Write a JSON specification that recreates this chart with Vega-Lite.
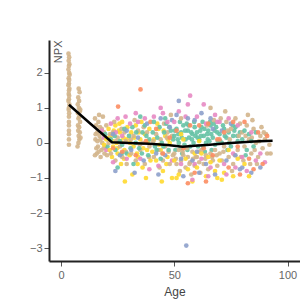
{
"$schema":"https://vega.github.io/schema/vega-lite/v6.json",
"autosize":"none",
"width":251,"height":221,
"padding":{"left":49,"top":40,"right":0,"bottom":39},
"background":"white",
"config":{"view":{"stroke":null},"font":"Liberation Sans"},
"datasets":{
"pts":[
{"a":3.3,"n":2.55,"g":"T"},{"a":3.6,"n":2.45,"g":"T"},{"a":3.4,"n":2.35,"g":"T"},{"a":3.7,"n":2.25,"g":"T"},{"a":3.5,"n":2.2,"g":"T"},{"a":3.3,"n":2.1,"g":"T"},{"a":3.6,"n":2.0,"g":"T"},{"a":3.8,"n":1.95,"g":"T"},{"a":3.4,"n":1.85,"g":"T"},{"a":3.6,"n":1.8,"g":"T"},{"a":3.5,"n":1.7,"g":"T"},{"a":3.3,"n":1.65,"g":"T"},{"a":3.7,"n":1.55,"g":"T"},{"a":3.5,"n":1.5,"g":"T"},{"a":3.4,"n":1.4,"g":"T"},{"a":3.6,"n":1.35,"g":"T"},{"a":3.5,"n":1.25,"g":"T"},{"a":3.3,"n":1.2,"g":"T"},{"a":3.7,"n":1.1,"g":"T"},{"a":3.5,"n":1.0,"g":"T"},{"a":3.4,"n":0.95,"g":"T"},{"a":3.6,"n":0.85,"g":"T"},{"a":3.5,"n":0.75,"g":"T"},{"a":3.5,"n":0.6,"g":"T"},{"a":3.5,"n":0.5,"g":"T"},{"a":3.5,"n":0.35,"g":"T"},{"a":3.5,"n":0.25,"g":"T"},{"a":3.5,"n":0.1,"g":"T"},{"a":3.5,"n":-0.05,"g":"T"},
{"a":7.8,"n":1.55,"g":"T"},{"a":8.2,"n":1.45,"g":"T"},{"a":7.6,"n":1.3,"g":"T"},{"a":8.0,"n":1.2,"g":"T"},{"a":7.4,"n":1.1,"g":"T"},{"a":7.9,"n":1.0,"g":"T"},{"a":8.3,"n":0.9,"g":"T"},{"a":7.5,"n":0.85,"g":"T"},{"a":8.1,"n":0.75,"g":"T"},{"a":7.7,"n":0.7,"g":"T"},{"a":8.4,"n":0.6,"g":"T"},{"a":7.5,"n":0.5,"g":"T"},{"a":8.0,"n":0.45,"g":"T"},{"a":7.6,"n":0.35,"g":"T"},{"a":8.3,"n":0.3,"g":"T"},{"a":7.8,"n":0.2,"g":"T"},{"a":8.1,"n":0.1,"g":"T"},{"a":7.7,"n":0.0,"g":"T"},{"a":7.3,"n":-0.1,"g":"T"},{"a":8.5,"n":0.95,"g":"T"},{"a":8.6,"n":0.15,"g":"T"},
{"a":15,"n":0.7,"g":"T"},{"a":15.5,"n":0.5,"g":"T"},{"a":16,"n":0.3,"g":"T"},{"a":15.2,"n":0.1,"g":"T"},{"a":16.3,"n":-0.1,"g":"T"},{"a":15.8,"n":-0.3,"g":"T"},{"a":16.5,"n":0.6,"g":"T"},{"a":17,"n":0.2,"g":"T"},{"a":17.5,"n":-0.4,"g":"T"},{"a":18,"n":0.4,"g":"T"},{"a":18.2,"n":0.0,"g":"T"},{"a":17.8,"n":-0.2,"g":"T"},{"a":19,"n":0.3,"g":"T"},{"a":19.5,"n":-0.1,"g":"T"},{"a":20,"n":0.5,"g":"T"},{"a":16.8,"n":0.8,"g":"T"},{"a":18.5,"n":0.75,"g":"T"},{"a":15,"n":-0.35,"g":"T"},{"a":17.2,"n":0.45,"g":"T"},{"a":19.2,"n":-0.3,"g":"T"},
{"a":15.3,"n":0.25,"g":"T"},{"a":15.6,"n":-0.15,"g":"T"},{"a":16.1,"n":0.05,"g":"T"},{"a":16.6,"n":-0.25,"g":"T"},{"a":17.4,"n":0.1,"g":"T"},{"a":18.8,"n":-0.15,"g":"T"},{"a":19.7,"n":0.15,"g":"T"},{"a":20.3,"n":-0.35,"g":"T"},
{"a":18,"n":0.35,"g":"P"},{"a":19,"n":0.15,"g":"P"},{"a":20,"n":-0.2,"g":"P"},{"a":19.5,"n":0.25,"g":"G"},{"a":20.5,"n":-0.1,"g":"G"},{"a":19,"n":-0.05,"g":"Y"},{"a":20,"n":0.1,"g":"Y"},
{"a":21,"n":0.4,"g":"Y"},{"a":22,"n":0.2,"g":"Y"},{"a":23,"n":-0.1,"g":"Y"},{"a":24,"n":0.5,"g":"Y"},{"a":24.5,"n":0.0,"g":"Y"},{"a":25,"n":-0.3,"g":"Y"},{"a":26,"n":0.3,"g":"Y"},{"a":27,"n":0.6,"g":"Y"},{"a":28,"n":-0.2,"g":"Y"},{"a":28.2,"n":-1.1,"g":"Y"},{"a":29,"n":0.1,"g":"Y"},{"a":22.5,"n":-0.4,"g":"Y"},{"a":26.5,"n":-0.6,"g":"Y"},{"a":21.5,"n":-0.2,"g":"Y"},{"a":27.5,"n":0.15,"g":"Y"},{"a":25.5,"n":0.35,"g":"Y"},
{"a":21.3,"n":0.15,"g":"Y"},{"a":23.3,"n":0.35,"g":"Y"},{"a":24.8,"n":-0.15,"g":"Y"},{"a":26.3,"n":0.05,"g":"Y"},{"a":27.8,"n":-0.45,"g":"Y"},{"a":29.3,"n":0.45,"g":"Y"},{"a":22.8,"n":0.05,"g":"Y"},{"a":25.8,"n":0.55,"g":"Y"},
{"a":21,"n":0.0,"g":"T"},{"a":22,"n":-0.3,"g":"T"},{"a":23,"n":0.3,"g":"T"},{"a":24,"n":-0.5,"g":"T"},{"a":25,"n":0.15,"g":"T"},{"a":26,"n":-0.1,"g":"T"},{"a":27,"n":-0.4,"g":"T"},{"a":28,"n":0.3,"g":"T"},{"a":29,"n":-0.6,"g":"T"},{"a":23.5,"n":0.6,"g":"T"},{"a":28.5,"n":0.05,"g":"T"},
{"a":21.7,"n":0.25,"g":"T"},{"a":24.3,"n":0.05,"g":"T"},{"a":26.7,"n":0.4,"g":"T"},{"a":28.7,"n":-0.25,"g":"T"},
{"a":22,"n":0.1,"g":"G"},{"a":24,"n":-0.2,"g":"G"},{"a":26,"n":0.05,"g":"G"},{"a":28,"n":0.4,"g":"G"},{"a":29,"n":-0.3,"g":"G"},{"a":25,"n":-0.7,"g":"G"},{"a":27,"n":-0.05,"g":"G"},{"a":23.7,"n":0.2,"g":"G"},{"a":26.8,"n":-0.3,"g":"G"},
{"a":22,"n":0.55,"g":"P"},{"a":25,"n":0.7,"g":"P"},{"a":27,"n":0.2,"g":"P"},{"a":29,"n":-0.45,"g":"P"},{"a":23,"n":-0.55,"g":"P"},{"a":28.5,"n":0.75,"g":"P"},{"a":24.2,"n":0.3,"g":"P"},
{"a":23,"n":0.25,"g":"B"},{"a":26,"n":-0.35,"g":"B"},{"a":29,"n":0.35,"g":"B"},{"a":24,"n":-0.8,"g":"B"},
{"a":25.2,"n":1.04,"g":"O"},{"a":27,"n":-0.25,"g":"O"},{"a":23,"n":-0.15,"g":"O"},
{"a":31,"n":0.3,"g":"Y"},{"a":32,"n":-0.1,"g":"Y"},{"a":33,"n":0.5,"g":"Y"},{"a":34,"n":-0.4,"g":"Y"},{"a":35,"n":0.1,"g":"Y"},{"a":36,"n":-0.7,"g":"Y"},{"a":37,"n":0.25,"g":"Y"},{"a":38,"n":-0.2,"g":"Y"},{"a":39,"n":0.4,"g":"Y"},{"a":31.5,"n":-0.9,"g":"Y"},{"a":35.5,"n":0.6,"g":"Y"},{"a":33.5,"n":-0.3,"g":"Y"},{"a":37.5,"n":-1.0,"g":"Y"},{"a":30.5,"n":0.0,"g":"Y"},{"a":39.5,"n":-0.5,"g":"Y"},
{"a":30.3,"n":-0.35,"g":"Y"},{"a":32.3,"n":0.15,"g":"Y"},{"a":34.3,"n":0.3,"g":"Y"},{"a":36.3,"n":-0.15,"g":"Y"},{"a":38.3,"n":0.05,"g":"Y"},{"a":33.8,"n":-0.6,"g":"Y"},
{"a":31,"n":-0.3,"g":"T"},{"a":32,"n":0.2,"g":"T"},{"a":33,"n":-0.5,"g":"T"},{"a":34,"n":0.35,"g":"T"},{"a":35,"n":-0.2,"g":"T"},{"a":36,"n":0.0,"g":"T"},{"a":37,"n":-0.6,"g":"T"},{"a":38,"n":0.3,"g":"T"},{"a":39,"n":-0.1,"g":"T"},{"a":32.5,"n":0.65,"g":"T"},{"a":36.5,"n":0.45,"g":"T"},
{"a":30.8,"n":0.1,"g":"T"},{"a":34.8,"n":-0.05,"g":"T"},{"a":38.8,"n":-0.4,"g":"T"},
{"a":30,"n":0.2,"g":"G"},{"a":31.5,"n":0.45,"g":"G"},{"a":33,"n":0.0,"g":"G"},{"a":34.5,"n":-0.15,"g":"G"},{"a":36,"n":0.3,"g":"G"},{"a":37,"n":0.5,"g":"G"},{"a":38.5,"n":-0.35,"g":"G"},{"a":39,"n":0.1,"g":"G"},{"a":35,"n":0.75,"g":"G"},{"a":32,"n":-0.6,"g":"G"},
{"a":30.7,"n":-0.15,"g":"G"},{"a":33.2,"n":0.3,"g":"G"},{"a":35.7,"n":-0.3,"g":"G"},{"a":37.7,"n":0.2,"g":"G"},
{"a":30.5,"n":0.55,"g":"P"},{"a":33,"n":0.85,"g":"P"},{"a":35,"n":-0.45,"g":"P"},{"a":37,"n":0.7,"g":"P"},{"a":39,"n":-0.75,"g":"P"},{"a":34,"n":0.6,"g":"P"},
{"a":31,"n":-0.2,"g":"B"},{"a":34,"n":0.15,"g":"B"},{"a":36.5,"n":-0.5,"g":"B"},{"a":38,"n":0.55,"g":"B"},{"a":32.5,"n":-0.85,"g":"B"},
{"a":35.1,"n":1.53,"g":"O"},{"a":33,"n":-0.35,"g":"O"},{"a":37.5,"n":0.05,"g":"O"},{"a":39.5,"n":0.6,"g":"O"},
{"a":41,"n":0.1,"g":"Y"},{"a":42,"n":-0.5,"g":"Y"},{"a":43,"n":0.4,"g":"Y"},{"a":44,"n":-0.2,"g":"Y"},{"a":45,"n":-0.8,"g":"Y"},{"a":46,"n":0.2,"g":"Y"},{"a":47,"n":-0.4,"g":"Y"},{"a":48,"n":0.0,"g":"Y"},{"a":49,"n":-1.0,"g":"Y"},{"a":42.5,"n":0.55,"g":"Y"},{"a":46.5,"n":-0.6,"g":"Y"},{"a":44.5,"n":-1.1,"g":"Y"},
{"a":40.3,"n":-0.25,"g":"Y"},{"a":43.3,"n":-0.05,"g":"Y"},{"a":45.3,"n":0.35,"g":"Y"},{"a":47.3,"n":0.1,"g":"Y"},
{"a":41,"n":-0.4,"g":"T"},{"a":42,"n":0.25,"g":"T"},{"a":43,"n":-0.2,"g":"T"},{"a":44,"n":0.1,"g":"T"},{"a":45,"n":-0.5,"g":"T"},{"a":46,"n":-0.1,"g":"T"},{"a":47,"n":0.3,"g":"T"},{"a":48,"n":-0.6,"g":"T"},{"a":49,"n":0.2,"g":"T"},{"a":43.5,"n":-0.7,"g":"T"},{"a":47.5,"n":-0.25,"g":"T"},{"a":45.5,"n":0.55,"g":"T"},{"a":48.5,"n":0.8,"g":"T"},
{"a":40.7,"n":0.05,"g":"T"},{"a":44.7,"n":-0.3,"g":"T"},{"a":46.7,"n":0.15,"g":"T"},{"a":49.4,"n":-0.35,"g":"T"},
{"a":40.5,"n":0.3,"g":"G"},{"a":41.5,"n":-0.1,"g":"G"},{"a":42.5,"n":0.15,"g":"G"},{"a":43.5,"n":0.45,"g":"G"},{"a":44.5,"n":0.0,"g":"G"},{"a":45.5,"n":0.3,"g":"G"},{"a":46.5,"n":0.55,"g":"G"},{"a":47.5,"n":-0.2,"g":"G"},{"a":48.5,"n":0.35,"g":"G"},{"a":49.5,"n":0.1,"g":"G"},{"a":44,"n":-0.45,"g":"G"},{"a":46,"n":0.7,"g":"G"},{"a":41,"n":0.6,"g":"G"},
{"a":42.2,"n":-0.2,"g":"G"},{"a":45.2,"n":-0.1,"g":"G"},{"a":47.8,"n":0.45,"g":"G"},
{"a":41,"n":0.75,"g":"P"},{"a":43,"n":-0.65,"g":"P"},{"a":45,"n":0.85,"g":"P"},{"a":47,"n":0.6,"g":"P"},{"a":49,"n":-0.5,"g":"P"},{"a":44,"n":1.0,"g":"P"},
{"a":42,"n":-0.3,"g":"B"},{"a":44,"n":0.7,"g":"B"},{"a":46,"n":-0.35,"g":"B"},{"a":48,"n":0.45,"g":"B"},{"a":43,"n":-0.9,"g":"B"},{"a":49,"n":0.65,"g":"B"},
{"a":42,"n":0.4,"g":"O"},{"a":45,"n":-0.3,"g":"O"},{"a":48,"n":0.15,"g":"O"},
{"a":50,"n":0.2,"g":"G"},{"a":51,"n":0.4,"g":"G"},{"a":52,"n":0.0,"g":"G"},{"a":53,"n":0.3,"g":"G"},{"a":54,"n":0.5,"g":"G"},{"a":55,"n":0.1,"g":"G"},{"a":56,"n":0.35,"g":"G"},{"a":57,"n":-0.1,"g":"G"},{"a":58,"n":0.25,"g":"G"},{"a":59,"n":0.45,"g":"G"},{"a":50.5,"n":-0.2,"g":"G"},{"a":52.5,"n":0.6,"g":"G"},{"a":54.5,"n":-0.05,"g":"G"},{"a":56.5,"n":0.15,"g":"G"},{"a":58.5,"n":0.0,"g":"G"},{"a":51.5,"n":0.1,"g":"G"},{"a":55.5,"n":0.55,"g":"G"},{"a":57.5,"n":0.3,"g":"G"},{"a":53.5,"n":-0.3,"g":"G"},
{"a":50.3,"n":0.35,"g":"G"},{"a":51.8,"n":0.25,"g":"G"},{"a":53.3,"n":0.15,"g":"G"},{"a":54.8,"n":0.35,"g":"G"},{"a":56.3,"n":0.5,"g":"G"},{"a":57.8,"n":0.1,"g":"G"},{"a":59.3,"n":0.2,"g":"G"},{"a":52.8,"n":-0.15,"g":"G"},{"a":55.8,"n":-0.2,"g":"G"},{"a":58.8,"n":0.6,"g":"G"},
{"a":50,"n":-0.3,"g":"T"},{"a":51,"n":-0.6,"g":"T"},{"a":52,"n":-0.2,"g":"T"},{"a":53,"n":-0.5,"g":"T"},{"a":54,"n":-0.35,"g":"T"},{"a":55,"n":-0.7,"g":"T"},{"a":56,"n":-0.4,"g":"T"},{"a":57,"n":-0.55,"g":"T"},{"a":58,"n":-0.25,"g":"T"},{"a":59,"n":-0.65,"g":"T"},{"a":52.5,"n":-0.8,"g":"T"},{"a":55.5,"n":-0.15,"g":"T"},{"a":57.5,"n":-0.9,"g":"T"},{"a":53,"n":0.7,"g":"T"},{"a":59.5,"n":-0.4,"g":"T"},
{"a":50.7,"n":-0.45,"g":"T"},{"a":53.7,"n":-0.25,"g":"T"},{"a":56.7,"n":-0.6,"g":"T"},{"a":58.3,"n":-0.45,"g":"T"},
{"a":50,"n":-0.5,"g":"Y"},{"a":52,"n":-0.9,"g":"Y"},{"a":54,"n":0.1,"g":"Y"},{"a":56,"n":-0.75,"g":"Y"},{"a":58,"n":-1.1,"g":"Y"},{"a":51,"n":-1.0,"g":"Y"},{"a":55,"n":-0.45,"g":"Y"},{"a":59,"n":-0.3,"g":"Y"},{"a":53,"n":0.25,"g":"Y"},
{"a":50,"n":0.6,"g":"P"},{"a":52,"n":0.9,"g":"P"},{"a":55,"n":0.75,"g":"P"},{"a":57,"n":1.35,"g":"P"},{"a":59,"n":-0.6,"g":"P"},{"a":56,"n":1.1,"g":"P"},{"a":53,"n":-0.6,"g":"P"},{"a":58,"n":-1.05,"g":"P"},
{"a":51,"n":0.8,"g":"B"},{"a":53,"n":-0.45,"g":"B"},{"a":55.3,"n":-2.93,"g":"B"},{"a":56,"n":0.7,"g":"B"},{"a":58,"n":-0.5,"g":"B"},{"a":54,"n":-0.95,"g":"B"},{"a":52,"n":1.2,"g":"B"},{"a":59,"n":0.65,"g":"B"},
{"a":51,"n":0.35,"g":"O"},{"a":54,"n":-0.15,"g":"O"},{"a":57,"n":0.5,"g":"O"},{"a":59,"n":-0.85,"g":"O"},{"a":56,"n":-1.15,"g":"O"},
{"a":60,"n":0.3,"g":"G"},{"a":61,"n":0.1,"g":"G"},{"a":62,"n":0.45,"g":"G"},{"a":63,"n":0.2,"g":"G"},{"a":64,"n":0.0,"g":"G"},{"a":65,"n":0.35,"g":"G"},{"a":66,"n":0.5,"g":"G"},{"a":67,"n":0.15,"g":"G"},{"a":68,"n":-0.05,"g":"G"},{"a":69,"n":0.3,"g":"G"},{"a":60.5,"n":-0.1,"g":"G"},{"a":62.5,"n":0.6,"g":"G"},{"a":64.5,"n":0.25,"g":"G"},{"a":66.5,"n":-0.2,"g":"G"},{"a":68.5,"n":0.45,"g":"G"},{"a":61.5,"n":0.35,"g":"G"},{"a":63.5,"n":-0.25,"g":"G"},{"a":65.5,"n":0.05,"g":"G"},{"a":67.5,"n":0.55,"g":"G"},
{"a":60.3,"n":0.15,"g":"G"},{"a":61.8,"n":0.2,"g":"G"},{"a":63.3,"n":0.4,"g":"G"},{"a":64.8,"n":0.1,"g":"G"},{"a":66.3,"n":0.25,"g":"G"},{"a":67.8,"n":0.35,"g":"G"},{"a":69.3,"n":0.05,"g":"G"},{"a":62.8,"n":-0.1,"g":"G"},{"a":65.8,"n":0.6,"g":"G"},
{"a":60,"n":-0.4,"g":"T"},{"a":61,"n":-0.55,"g":"T"},{"a":62,"n":-0.2,"g":"T"},{"a":63,"n":-0.6,"g":"T"},{"a":64,"n":-0.35,"g":"T"},{"a":65,"n":-0.75,"g":"T"},{"a":66,"n":-0.3,"g":"T"},{"a":67,"n":-0.5,"g":"T"},{"a":68,"n":-0.2,"g":"T"},{"a":69,"n":-0.65,"g":"T"},{"a":61.5,"n":-0.85,"g":"T"},{"a":64.5,"n":0.5,"g":"T"},{"a":67.5,"n":0.65,"g":"T"},{"a":66,"n":1.0,"g":"T"},
{"a":60.7,"n":-0.25,"g":"T"},{"a":63.7,"n":-0.45,"g":"T"},{"a":66.7,"n":-0.4,"g":"T"},{"a":68.7,"n":-0.35,"g":"T"},
{"a":60,"n":-0.7,"g":"Y"},{"a":62,"n":-0.3,"g":"Y"},{"a":64,"n":-0.95,"g":"Y"},{"a":66,"n":-0.55,"g":"Y"},{"a":68,"n":-0.8,"g":"Y"},{"a":61,"n":0.05,"g":"Y"},{"a":65,"n":-0.4,"g":"Y"},{"a":69,"n":-1.0,"g":"Y"},
{"a":60,"n":0.75,"g":"P"},{"a":62,"n":-0.45,"g":"P"},{"a":64,"n":0.55,"g":"P"},{"a":66,"n":-0.7,"g":"P"},{"a":68,"n":0.8,"g":"P"},{"a":63,"n":1.1,"g":"P"},{"a":65,"n":-0.95,"g":"P"},{"a":69,"n":0.6,"g":"P"},
{"a":60,"n":-0.25,"g":"B"},{"a":62,"n":0.85,"g":"B"},{"a":64,"n":-0.6,"g":"B"},{"a":66,"n":0.7,"g":"B"},{"a":68,"n":-0.9,"g":"B"},{"a":61,"n":-0.85,"g":"B"},{"a":67,"n":0.4,"g":"B"},
{"a":61,"n":0.5,"g":"O"},{"a":63,"n":-0.15,"g":"O"},{"a":65,"n":0.55,"g":"O"},{"a":67,"n":-0.35,"g":"O"},{"a":69,"n":0.1,"g":"O"},{"a":64,"n":-1.1,"g":"O"},
{"a":70,"n":0.25,"g":"G"},{"a":71,"n":0.0,"g":"G"},{"a":72,"n":0.4,"g":"G"},{"a":73,"n":0.15,"g":"G"},{"a":74,"n":0.3,"g":"G"},{"a":75,"n":-0.1,"g":"G"},{"a":76,"n":0.2,"g":"G"},{"a":77,"n":0.45,"g":"G"},{"a":78,"n":0.05,"g":"G"},{"a":79,"n":0.3,"g":"G"},{"a":71.5,"n":0.5,"g":"G"},{"a":73.5,"n":-0.2,"g":"G"},{"a":76.5,"n":0.35,"g":"G"},
{"a":70.3,"n":0.05,"g":"G"},{"a":72.3,"n":0.2,"g":"G"},{"a":74.3,"n":0.0,"g":"G"},{"a":75.8,"n":0.5,"g":"G"},{"a":77.8,"n":0.2,"g":"G"},
{"a":70,"n":-0.3,"g":"T"},{"a":71,"n":-0.5,"g":"T"},{"a":72,"n":-0.1,"g":"T"},{"a":73,"n":0.6,"g":"T"},{"a":74,"n":-0.4,"g":"T"},{"a":75,"n":0.4,"g":"T"},{"a":76,"n":-0.6,"g":"T"},{"a":77,"n":0.7,"g":"T"},{"a":78,"n":-0.2,"g":"T"},{"a":79,"n":0.55,"g":"T"},{"a":72.5,"n":0.9,"g":"T"},{"a":75.5,"n":-0.8,"g":"T"},{"a":78.5,"n":0.2,"g":"T"},{"a":74.5,"n":0.1,"g":"T"},{"a":70.5,"n":0.7,"g":"T"},
{"a":71.7,"n":-0.25,"g":"T"},{"a":73.7,"n":0.35,"g":"T"},{"a":76.7,"n":-0.35,"g":"T"},{"a":79.4,"n":-0.4,"g":"T"},
{"a":70,"n":-0.5,"g":"Y"},{"a":72,"n":-0.85,"g":"Y"},{"a":74,"n":-0.2,"g":"Y"},{"a":76,"n":-0.95,"g":"Y"},{"a":78,"n":-0.45,"g":"Y"},{"a":71,"n":-1.05,"g":"Y"},
{"a":70,"n":0.6,"g":"P"},{"a":72,"n":-0.6,"g":"P"},{"a":74,"n":0.7,"g":"P"},{"a":76,"n":-0.3,"g":"P"},{"a":78,"n":0.5,"g":"P"},{"a":73,"n":-0.9,"g":"P"},{"a":77,"n":-0.7,"g":"P"},
{"a":71,"n":0.35,"g":"B"},{"a":73,"n":-0.5,"g":"B"},{"a":75,"n":0.55,"g":"B"},{"a":77,"n":-0.35,"g":"B"},{"a":79,"n":-0.75,"g":"B"},
{"a":70,"n":0.1,"g":"O"},{"a":72,"n":0.3,"g":"O"},{"a":74,"n":-0.7,"g":"O"},{"a":76,"n":0.6,"g":"O"},{"a":78,"n":-0.1,"g":"O"},{"a":79,"n":-0.9,"g":"O"},
{"a":80,"n":0.3,"g":"T"},{"a":81,"n":-0.1,"g":"T"},{"a":82,"n":0.5,"g":"T"},{"a":83,"n":0.1,"g":"T"},{"a":84,"n":-0.3,"g":"T"},{"a":85,"n":0.4,"g":"T"},{"a":86,"n":0.0,"g":"T"},{"a":87,"n":-0.4,"g":"T"},{"a":88,"n":0.2,"g":"T"},{"a":89,"n":-0.15,"g":"T"},{"a":90,"n":0.1,"g":"T"},{"a":91,"n":-0.3,"g":"T"},{"a":82.5,"n":0.8,"g":"T"},{"a":84.5,"n":0.65,"g":"T"},{"a":86.5,"n":-0.6,"g":"T"},{"a":88.5,"n":0.45,"g":"T"},{"a":80.5,"n":-0.5,"g":"T"},{"a":83.5,"n":-0.6,"g":"T"},{"a":85.5,"n":-0.2,"g":"T"},{"a":90.5,"n":0.25,"g":"T"},{"a":92,"n":-0.05,"g":"T"},
{"a":81.5,"n":0.2,"g":"T"},{"a":84.2,"n":0.15,"g":"T"},{"a":87.5,"n":0.05,"g":"T"},{"a":89.5,"n":0.3,"g":"T"},{"a":92.5,"n":-0.3,"g":"T"},
{"a":80,"n":0.1,"g":"G"},{"a":81,"n":0.35,"g":"G"},{"a":82,"n":-0.2,"g":"G"},{"a":83,"n":0.25,"g":"G"},{"a":84,"n":0.05,"g":"G"},{"a":85,"n":-0.1,"g":"G"},{"a":81.5,"n":-0.35,"g":"G"},{"a":86,"n":0.3,"g":"G"},
{"a":80,"n":-0.4,"g":"P"},{"a":82,"n":-0.8,"g":"P"},{"a":84,"n":0.3,"g":"P"},{"a":86,"n":-0.5,"g":"P"},{"a":88,"n":-0.3,"g":"P"},{"a":90,"n":-0.55,"g":"P"},
{"a":81,"n":0.6,"g":"O"},{"a":83,"n":-0.45,"g":"O"},{"a":85,"n":-0.75,"g":"O"},{"a":87,"n":0.3,"g":"O"},{"a":89,"n":-0.6,"g":"O"},{"a":91,"n":0.2,"g":"O"},
{"a":80,"n":-0.7,"g":"B"},{"a":84,"n":-0.85,"g":"B"},{"a":88,"n":-0.7,"g":"B"},
{"a":81,"n":-0.6,"g":"Y"},{"a":83,"n":-0.95,"g":"Y"}
],
"trend":[
{"a":3.5,"n":1.09},{"a":13,"n":0.55},{"a":22.5,"n":0.02},{"a":30,"n":-0.0},{"a":39,"n":-0.02},{"a":47,"n":-0.06},{"a":53.7,"n":-0.11},{"a":59,"n":-0.08},{"a":65.6,"n":-0.05},{"a":75,"n":0.0},{"a":85,"n":0.04},{"a":93.4,"n":0.06}
]
},
"layer":[
{"data":{"name":"pts"},
 "mark":{"type":"circle","size":22,"opacity":0.9},
 "encoding":{
  "x":{"field":"a","type":"quantitative","scale":{"domain":[-5.3,105.5],"nice":false,"zero":false},
    "axis":{"values":[0,50,100],"title":"Age","grid":false,"domainColor":"#222","domainWidth":2,"tickColor":"#555","tickSize":5,"labelColor":"#666","labelFontSize":11,"titleColor":"#444","titleFontSize":12,"titleFontWeight":"normal","labelPadding":3,"titlePadding":6}},
  "y":{"field":"n","type":"quantitative","scale":{"domain":[-3.37,2.94],"nice":false,"zero":false},
    "axis":{"values":[-3,-2,-1,0,1,2],"title":"NPX","grid":false,"domainColor":"#222","domainWidth":2,"tickColor":"#555","tickSize":5,"labelColor":"#666","labelFontSize":11,"titleColor":"#555","titleFontSize":11,"titleFontWeight":"normal","titleAngle":270,"titleAlign":"right","titleBaseline":"alphabetic","titleX":12,"titleY":0}},
  "color":{"field":"g","type":"nominal","legend":null,
    "scale":{"domain":["T","G","Y","P","B","O"],"range":["#d3b58c","#66c2a5","#ffd92f","#e78ac3","#8da0cb","#fc8d62"]}}
 }},
{"data":{"name":"trend"},
 "mark":{"type":"line","color":"black","strokeWidth":2.5},
 "encoding":{"x":{"field":"a","type":"quantitative"},"y":{"field":"n","type":"quantitative"}}}
]
}
